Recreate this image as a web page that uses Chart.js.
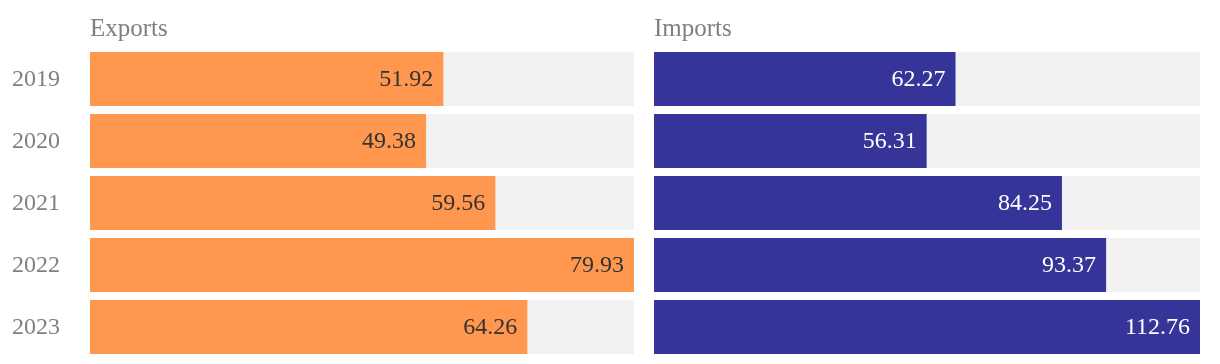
<!DOCTYPE html>
<html lang="en">
<head>
<meta charset="UTF-8">
<title>Exports and Imports</title>
<style>
  body { margin: 0; background: #fff; }
  .wrap { position: relative; width: 1220px; height: 364px; }
  #left { position: absolute; left: 0; top: 0; }
  #right { position: absolute; left: 634px; top: 0; }
</style>
</head>
<body>
<div class="wrap">
  <canvas id="left" width="634" height="364"></canvas>
  <canvas id="right" width="566" height="364"></canvas>
</div>
<script src="https://cdn.jsdelivr.net/npm/chart.js@4"></script>
<script>
// data
const years = ['2019', '2020', '2021', '2022', '2023'];
const exportsVals = [51.92, 49.38, 59.56, 79.93, 64.26];
const importsVals = [62.27, 56.31, 84.25, 93.37, 112.76];

const FONT = "'Liberation Serif', 'DejaVu Serif', serif";

// title, year labels and value labels
const labelsPlugin = {
  id: 'labels',
  afterDatasetsDraw(chart, args, opts) {
    const ctx = chart.ctx;
    const area = chart.chartArea;
    ctx.save();
    ctx.font = '25px ' + FONT;
    ctx.fillStyle = '#808080';
    ctx.textAlign = 'left';
    ctx.textBaseline = 'alphabetic';
    ctx.fillText(opts.title, area.left, 36);

    const meta = chart.getDatasetMeta(1);
    ctx.font = '24px ' + FONT;
    if (opts.showYears) {
      ctx.textBaseline = 'middle';
      meta.data.forEach((bar, i) => {
        ctx.fillText(chart.data.labels[i], 12, bar.y + 1);
      });
    }
    ctx.fillStyle = opts.textColor;
    ctx.textAlign = 'right';
    ctx.textBaseline = 'middle';
    meta.data.forEach((bar, i) => {
      const v = chart.data.datasets[1].data[i];
      ctx.fillText(v.toFixed(2), bar.x - 10, bar.y + 1);
    });
    ctx.restore();
  }
};

function makeChart(id, title, vals, color, textColor, showYears) {
  const maxV = Math.max(...vals);
  const track = vals.map(() => maxV);
  return new Chart(document.getElementById(id), {
    type: 'bar',
    data: {
      labels: years,
      datasets: [
        { data: track, backgroundColor: '#f2f2f2', grouped: false, order: 2 },
        { data: vals, backgroundColor: color, grouped: false, order: 1 }
      ]
    },
    options: {
      indexAxis: 'y',
      responsive: false,
      animation: false,
      barPercentage: 54 / 62,
      categoryPercentage: 1,
      layout: { padding: { top: 48, bottom: 6, left: showYears ? 90 : 20, right: 0 } },
      plugins: {
        legend: { display: false },
        tooltip: { enabled: false },
        labels: { title: title, textColor: textColor, showYears: showYears }
      },
      scales: {
        x: { display: false, min: 0, max: maxV },
        y: { display: false }
      }
    },
    plugins: [labelsPlugin]
  });
}

makeChart('left', 'Exports', exportsVals, '#ff974f', '#333333', true);
makeChart('right', 'Imports', importsVals, '#353599', '#ffffff', false);
</script>
</body>
</html>
